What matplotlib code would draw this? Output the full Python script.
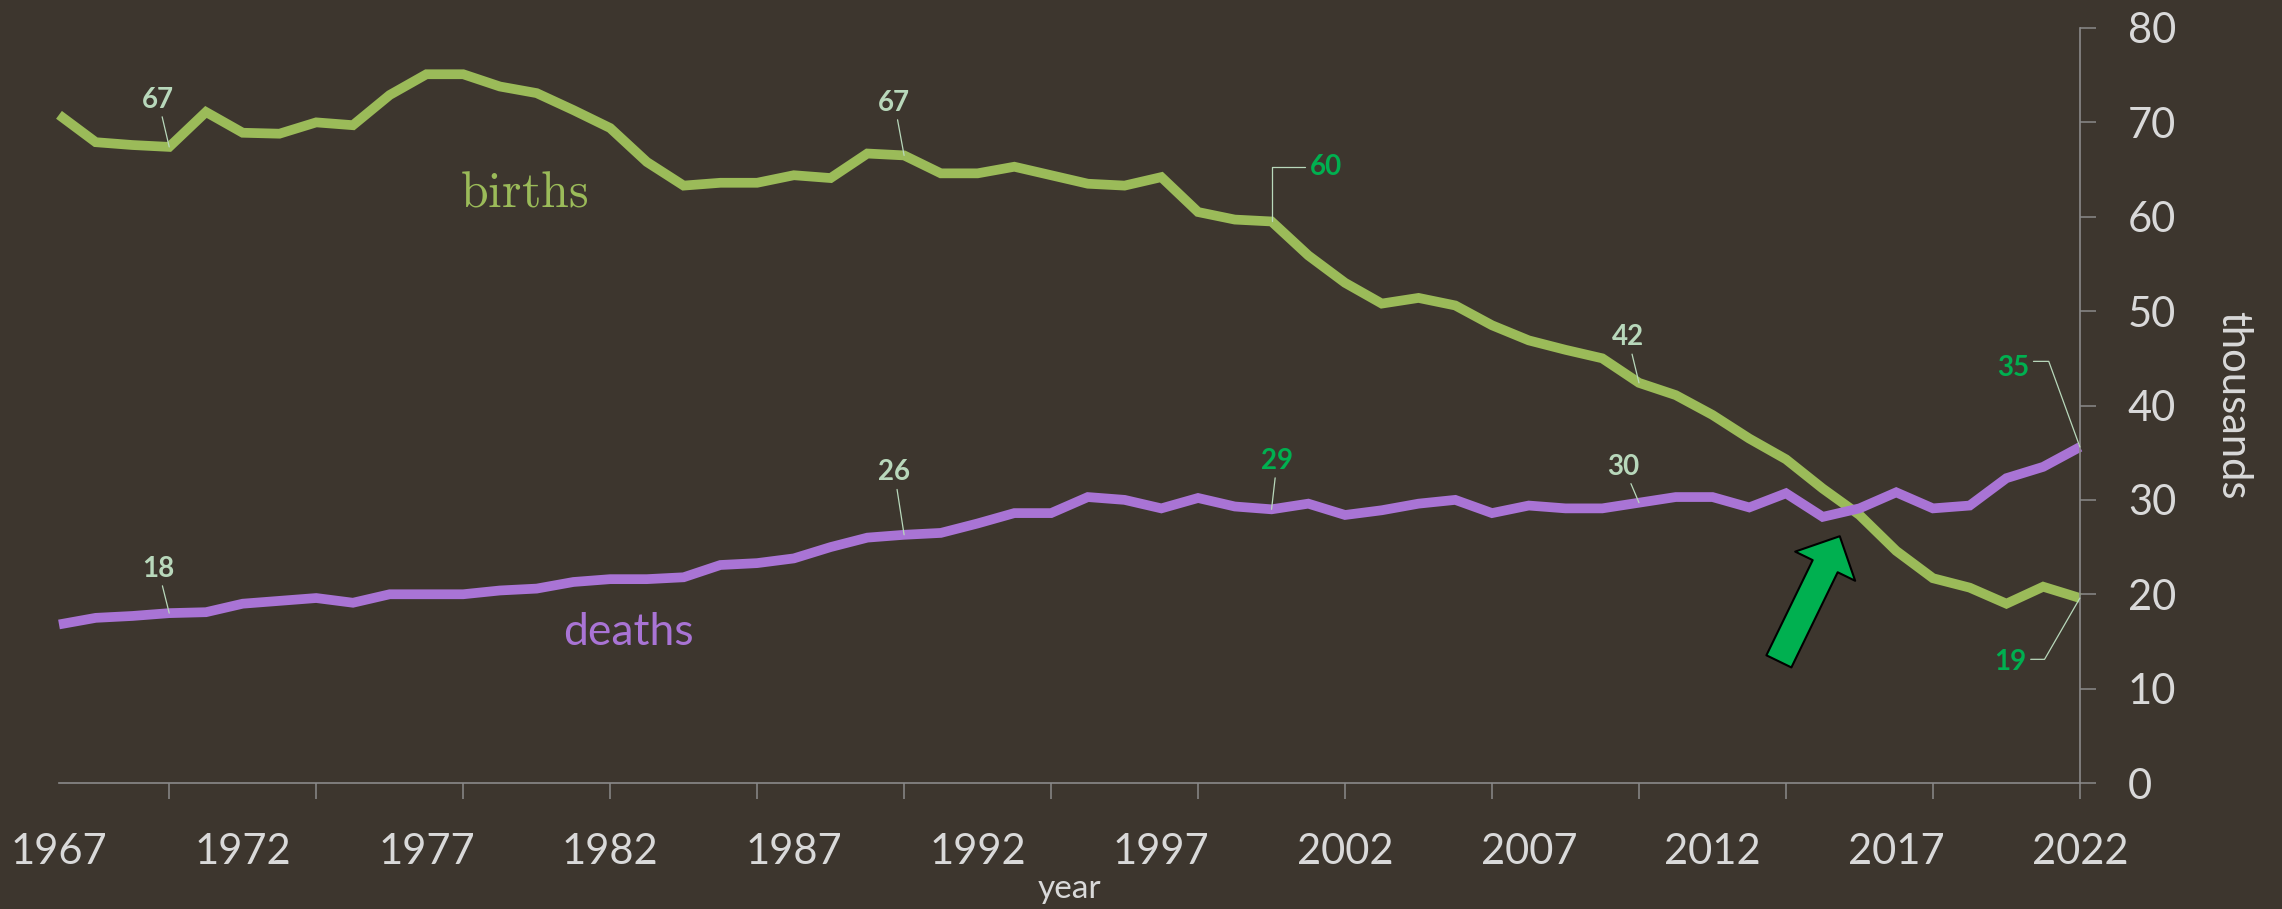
import numpy as np
import matplotlib
matplotlib.use('Agg')
import matplotlib.pyplot as plt

plt.rcParams['font.family'] = ['Lato', 'DejaVu Sans']
plt.rcParams['mathtext.fontset'] = 'cm'

# data, thousands per year
years = list(range(1967, 2023))
births = [70.8, 67.9, 67.6, 67.4, 71.1, 68.9, 68.8, 70.0, 69.7, 72.9,
          75.1, 75.1, 73.8, 73.1, 71.3, 69.4, 65.8, 63.3, 63.6, 63.6,
          64.4, 64.1, 66.7, 66.5, 64.6, 64.6, 65.3, 64.4, 63.5, 63.3,
          64.2, 60.5, 59.7, 59.5, 55.9, 53.0, 50.8, 51.4, 50.6, 48.5,
          46.9, 45.9, 45.0, 42.4, 41.1, 39.0, 36.5, 34.3, 31.2, 28.4,
          24.6, 21.7, 20.7, 19.0, 20.8, 19.6]
deaths = [16.8, 17.5, 17.7, 18.0, 18.1, 19.0, 19.3, 19.6, 19.1, 20.0,
          20.0, 20.0, 20.4, 20.6, 21.3, 21.6, 21.6, 21.8, 23.1, 23.3,
          23.8, 25.0, 26.0, 26.3, 26.5, 27.5, 28.6, 28.6, 30.3, 30.0,
          29.1, 30.2, 29.3, 29.0, 29.6, 28.4, 28.9, 29.6, 30.0, 28.6,
          29.4, 29.1, 29.1, 29.7, 30.3, 30.3, 29.2, 30.7, 28.2, 29.1,
          30.8, 29.1, 29.4, 32.3, 33.5, 35.6]

xtick_labels = [str(y) for y in range(1967, 2023, 5)]

bg = '#3d362e'
green = '#9bbb59'
purple = '#a974d5'
axis_col = '#8a8a8a'
text_col = '#d9d9d9'
note_light = '#b8d8bb'
note_green = '#00b050'

fig = plt.figure(figsize=(22.82, 9.09), dpi=100, facecolor=bg)
ax = fig.add_axes([0.02585, 0.1386, 0.8856, 0.8306])
ax.set_facecolor(bg)

ax.plot(years, births, color=green, lw=7, solid_joinstyle='miter', solid_capstyle='butt', clip_on=False)
ax.plot(years, deaths, color=purple, lw=7, solid_joinstyle='miter', solid_capstyle='butt', clip_on=False)

ax.set_xlim(1967, 2022)
ax.set_ylim(0, 80)

for s in ['top', 'left']:
    ax.spines[s].set_visible(False)
for s in ['bottom', 'right']:
    ax.spines[s].set_color(axis_col)
    ax.spines[s].set_linewidth(1.2)

ax.yaxis.tick_right()
ax.yaxis.set_label_position('right')
ax.set_yticks(range(0, 81, 10))
ax.xaxis.remove_overlapping_locs = False
ax.set_xticks(range(1970, 2023, 4))
ax.set_xticklabels([])
ax.set_xticks(range(1967, 2023, 5), minor=True)
ax.set_xticklabels(xtick_labels, minor=True)
ax.tick_params(axis='x', which='major', direction='out', length=11.5, width=1.1, color=axis_col)
ax.tick_params(axis='x', which='minor', length=0, pad=36, labelsize=30, labelcolor=text_col)
ax.tick_params(axis='y', direction='out', length=11.5, width=1.1, color=axis_col,
               pad=23, labelsize=30, labelcolor=text_col)

ax.set_xlabel('year', fontsize=24, color=text_col, labelpad=2)
ax.set_ylabel('thousands', fontsize=30, color=text_col, rotation=270, va='bottom', labelpad=27)

ax.text(1979.65, 62.6, r'$\mathrm{births}$', fontsize=36, color=green, ha='center', va='center')
ax.text(1982.5, 15.9, 'deaths', fontsize=32, color=purple, ha='center', va='center')

# value call-outs
def note(yr, lab, series, off, col, conn=None, rel=(0.5, 0.5)):
    val = series[years.index(yr)]
    ap = dict(arrowstyle='-', color=note_light, lw=0.9, shrinkA=1, shrinkB=0, relpos=rel)
    if conn:
        ap['connectionstyle'] = conn
    ax.annotate(lab, xy=(yr, val), xytext=off, textcoords='offset points',
                ha='center', va='center', fontsize=20, fontweight='bold', color=col,
                arrowprops=ap, annotation_clip=False)

note(1970, '67', births, (-8, 34), note_light)
note(1990, '67', births, (-7, 38), note_light)
note(2000, '60', births, (39, 39), note_green, 'angle,angleA=0,angleB=90,rad=0')
note(2010, '42', births, (-8, 33), note_light)
note(2022, '19', births, (-50, -46), note_green, 'angle,angleA=0,angleB=60,rad=0', (1.0, 0.6))
note(1970, '18', deaths, (-8, 32), note_light)
note(1990, '26', deaths, (-7, 45), note_light)
note(2000, '29', deaths, (4, 35), note_green)
note(2010, '30', deaths, (-11, 26), note_light)
note(2022, '35', deaths, (-48, 57), note_green, 'angle,angleA=0,angleB=110,rad=0', (1.0, 0.75))

# arrow pointing at the crossover
b = np.array(births)
d = np.array(deaths)
diff = b - d
i = np.where((diff[:-1] > 0) & (diff[1:] <= 0))[0][0]
t = diff[i] / (diff[i] - diff[i + 1])
cx = years[i] + t
cy = b[i] + t * (b[i + 1] - b[i])
ax.annotate('', xy=(cx, cy), xytext=(-53, -109), textcoords='offset points',
            arrowprops=dict(arrowstyle='simple,head_length=1.2,head_width=2.4,tail_width=1.0',
                            mutation_scale=20, fc=note_green, ec='black', lw=1.5,
                            shrinkA=0, shrinkB=21))

plt.savefig('out.png', dpi=100, facecolor=bg)
